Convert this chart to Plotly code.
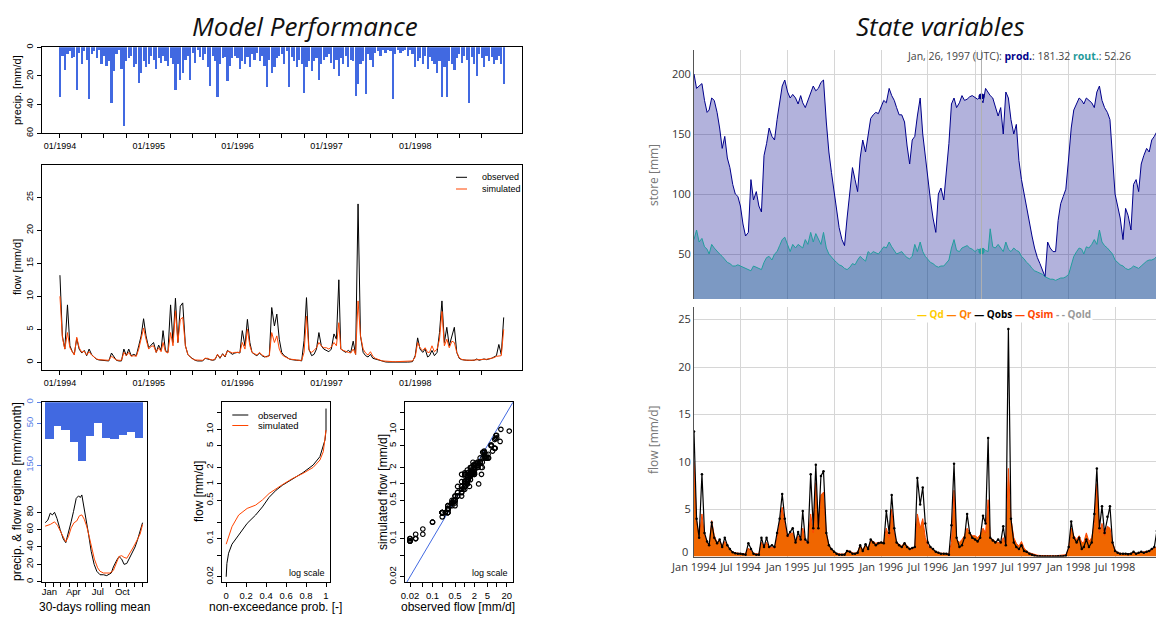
import pandas as pd
import plotly.graph_objects as go

# target picture size and the 8px default page margin of the html body
W, H = 1164, 621
OFF = 8
FW, FH = W - OFF, H - OFF

# ---------------------------------------------------------------- data
# time grid: 1st, 11th and 21st of each month 1994-1998, plus 31 Dec 1998
GRID_DAYS = (1, 11, 21)
dates = [pd.Timestamp(y, m, d) for y in range(1994, 1999) for m in range(1, 13) for d in GRID_DAYS]
dates.append(pd.Timestamp(1998, 12, 31))

# precipitation [mm/d]
p94 = [35, 6, 16, 5, 3, 8, 7, 30, 4, 12, 3, 9, 36, 5, 3, 8, 2, 12, 6, 13, 10, 39, 17, 5, 2, 15, 55, 10, 8, 6, 14, 12, 25, 18, 10, 14]
p95 = [12, 6, 9, 15, 8, 11, 6, 10, 13, 8, 12, 30, 12, 23, 18, 9, 6, 23, 4, 11, 2, 7, 9, 5, 14, 27, 6, 10, 35, 12, 8, 7, 24, 13, 8, 6]
p96 = [8, 15, 10, 12, 7, 14, 5, 9, 4, 10, 6, 13, 28, 9, 18, 14, 8, 6, 5, 12, 3, 28, 7, 10, 14, 9, 12, 32, 14, 10, 17, 10, 8, 23, 12, 9]
p97 = [7, 5, 11, 15, 9, 20, 8, 12, 6, 14, 9, 10, 34, 26, 12, 10, 33, 5, 9, 14, 4, 3, 6, 2, 4, 2, 3, 36, 5, 2, 4, 3, 2, 6, 2, 5]
p98 = [14, 10, 8, 12, 6, 15, 7, 10, 12, 18, 10, 35, 14, 35, 10, 12, 16, 8, 5, 11, 6, 9, 39, 7, 12, 20, 5, 8, 14, 6, 10, 7, 12, 9, 6, 12, 26]
precip = p94 + p95 + p96 + p97 + p98

# observed flow [mm/d]
o94 = [13.2, 4.0, 2.0, 8.7, 2.5, 1.6, 1.2, 3.6, 2.0, 1.4, 1.8, 1.0, 2.0, 1.2, 0.8, 0.45, 0.35, 0.3, 0.3, 0.25, 0.2, 1.4, 0.8, 0.3, 0.2, 0.2, 2.0, 1.0, 2.0, 1.0, 1.2, 1.0, 2.5, 4.0, 6.6, 4.0]
o95 = [2.2, 2.6, 3.0, 1.5, 2.6, 1.8, 4.8, 1.8, 1.5, 8.7, 3.0, 9.7, 3.0, 8.5, 9.0, 2.5, 1.2, 0.8, 0.5, 0.3, 0.2, 0.2, 0.2, 0.6, 0.5, 0.3, 0.3, 0.4, 1.2, 0.6, 1.3, 0.8, 1.8, 1.5, 1.2, 1.4]
o96 = [1.5, 1.4, 4.8, 2.5, 6.5, 3.0, 1.5, 1.2, 1.0, 1.4, 1.0, 0.8, 0.9, 1.0, 8.3, 5.5, 7.3, 3.5, 1.5, 1.0, 0.8, 0.5, 0.4, 0.3, 0.3, 0.3, 0.2, 3.3, 9.8, 2.0, 1.0, 1.2, 2.0, 4.5, 2.5, 2.0]
o97 = [1.8, 1.6, 2.0, 4.3, 3.5, 12.5, 2.0, 1.7, 1.5, 1.8, 1.5, 3.2, 1.2, 24.0, 4.0, 1.5, 1.0, 0.8, 1.2, 0.6, 0.5, 0.3, 0.2, 0.1, 0.05, 0.03, 0.02, 0.02, 0.02, 0.02, 0.02, 0.02, 0.03, 0.03, 0.05, 0.1]
o98 = [1.0, 3.7, 2.0, 1.5, 2.0, 0.8, 1.0, 1.8, 1.0, 1.5, 4.5, 9.3, 3.0, 5.3, 2.5, 4.2, 5.3, 1.5, 0.6, 0.4, 0.3, 0.3, 0.3, 0.25, 0.3, 0.5, 0.3, 0.4, 0.5, 0.4, 0.5, 0.6, 0.8, 1.0, 2.7, 1.2, 6.8]
q_obs = o94 + o95 + o96 + o97 + o98

# simulated flow [mm/d]
s94 = [10.0, 3.8, 2.0, 4.5, 2.2, 1.5, 1.1, 3.8, 2.2, 1.5, 1.7, 1.1, 1.6, 1.1, 0.8, 0.5, 0.4, 0.35, 0.35, 0.3, 0.3, 0.9, 0.6, 0.35, 0.3, 0.3, 1.5, 1.0, 1.5, 0.9, 1.0, 0.9, 2.0, 3.8, 5.2, 3.5]
s95 = [2.0, 2.4, 2.5, 1.5, 2.2, 1.6, 3.0, 1.6, 1.4, 4.5, 2.5, 7.8, 3.0, 6.5, 6.8, 2.5, 1.2, 0.8, 0.5, 0.35, 0.3, 0.25, 0.3, 0.6, 0.6, 0.4, 0.35, 0.5, 1.2, 0.7, 1.2, 0.9, 1.7, 1.6, 1.4, 1.5]
s96 = [1.5, 1.5, 3.0, 2.0, 5.0, 2.5, 1.5, 1.3, 1.1, 1.5, 1.1, 0.9, 0.8, 1.0, 4.5, 3.0, 4.0, 2.0, 1.2, 0.9, 0.7, 0.5, 0.45, 0.35, 0.35, 0.3, 0.3, 1.5, 7.0, 1.8, 1.5, 1.8, 2.2, 3.0, 2.5, 2.2]
s97 = [2.2, 2.0, 2.3, 3.0, 2.5, 6.0, 2.0, 1.8, 1.6, 1.5, 1.4, 2.0, 1.2, 9.3, 4.0, 2.0, 1.4, 1.1, 1.6, 0.9, 0.6, 0.4, 0.3, 0.2, 0.15, 0.12, 0.1, 0.1, 0.09, 0.09, 0.09, 0.09, 0.1, 0.1, 0.12, 0.2]
s98 = [0.8, 3.0, 2.2, 1.8, 2.2, 1.5, 1.5, 2.5, 1.6, 2.0, 3.5, 7.7, 2.5, 3.5, 2.2, 3.2, 3.0, 1.5, 0.7, 0.45, 0.35, 0.3, 0.3, 0.3, 0.35, 0.4, 0.35, 0.4, 0.45, 0.45, 0.5, 0.6, 0.7, 0.9, 1.0, 1.0, 5.0]
q_sim = s94 + s95 + s96 + s97 + s98

# production store [mm]
prod94 = [200, 188, 190, 192, 178, 168, 170, 180, 178, 168, 155, 138, 148, 130, 122, 108, 100, 98, 90, 75, 65, 68, 112, 95, 102, 90, 85, 132, 142, 155, 148, 145, 162, 178, 190, 195]
prod95 = [185, 180, 183, 180, 175, 182, 176, 172, 178, 185, 190, 186, 188, 193, 195, 160, 135, 118, 102, 90, 72, 62, 57, 80, 105, 122, 112, 102, 130, 145, 135, 150, 163, 166, 168, 167]
prod96 = [172, 178, 176, 188, 182, 178, 172, 166, 166, 160, 140, 125, 145, 148, 165, 180, 150, 130, 112, 95, 80, 68, 100, 105, 95, 120, 142, 175, 180, 172, 176, 182, 178, 179, 181, 182]
prod97 = [180, 179, 181, 176, 188, 184, 182, 180, 172, 165, 172, 150, 185, 180, 162, 150, 158, 128, 112, 100, 88, 75, 65, 55, 47, 42, 36, 31, 60, 55, 52, 52, 78, 92, 98, 104]
prod98 = [130, 155, 170, 176, 180, 178, 175, 180, 178, 176, 172, 185, 190, 178, 172, 168, 162, 128, 100, 90, 80, 62, 88, 82, 70, 108, 112, 102, 125, 132, 138, 135, 145, 148, 152, 168, 182]
prod_store = prod94 + prod95 + prod96 + prod97 + prod98

# routing store [mm]
rout94 = [62, 70, 60, 63, 56, 54, 50, 58, 55, 52, 50, 48, 45, 43, 42, 40, 40, 41, 40, 39, 38, 37, 36, 40, 39, 38, 37, 43, 47, 48, 45, 50, 52, 57, 62, 64]
rout95 = [58, 52, 58, 55, 58, 56, 55, 62, 58, 68, 60, 67, 62, 58, 68, 55, 50, 47, 45, 43, 41, 40, 38, 37, 39, 42, 41, 45, 48, 46, 44, 52, 50, 52, 51, 50]
rout96 = [53, 56, 55, 60, 56, 53, 50, 51, 52, 49, 47, 46, 48, 58, 52, 60, 52, 48, 45, 43, 42, 40, 39, 40, 40, 43, 45, 55, 62, 53, 52, 55, 56, 57, 55, 54]
rout97 = [52, 54, 53, 55, 53, 52, 71, 56, 55, 58, 55, 52, 60, 54, 52, 55, 53, 52, 48, 46, 43, 41, 38, 36, 35, 34, 33, 31, 30, 29, 29, 28, 29, 30, 30, 31]
rout98 = [33, 40, 48, 52, 55, 54, 50, 56, 55, 58, 62, 58, 70, 60, 57, 55, 52, 50, 45, 43, 41, 40, 38, 37, 38, 40, 39, 38, 40, 42, 44, 45, 45, 46, 48, 52, 62]
rout_store = rout94 + rout95 + rout96 + rout97 + rout98

HOVER_DATE = "1997-01-26"
HOVER_LABEL = "Jan, 26, 1997 (UTC)"
HOVER_PROD = 181.32
HOVER_ROUT = 52.26

# regime (30-days rolling mean), day of year -> mm/month
regime_precip = [87, 58, 66, 95, 140, 82, 50, 86, 87, 79, 72, 86]
regime_day_obs = [1, 11, 20, 28, 36, 45, 57, 69, 78, 88, 98, 107, 117, 126, 132, 138, 144, 150, 163, 173, 184, 194, 206, 219, 231, 248, 256, 269, 277, 287, 296, 306, 316, 325, 337, 346, 356, 365]
regime_obs = [68, 71, 79, 77, 80, 73, 60, 49, 45, 56, 69, 81, 96, 99, 97, 100, 90, 80, 55, 35, 20, 12, 8, 8, 7, 10, 17, 25, 29, 26, 20, 21, 27, 33, 40, 48, 58, 68]
regime_day_sim = [1, 20, 36, 47, 63, 78, 88, 98, 109, 119, 129, 138, 147, 157, 167, 175, 185, 197, 206, 219, 243, 256, 269, 277, 287, 296, 306, 319, 331, 343, 356, 365]
regime_sim = [64, 66, 69, 65, 55, 46, 52, 62, 68, 70, 76, 77, 72, 63, 50, 38, 26, 16, 12, 10, 10, 13, 24, 29, 30, 28, 27, 33, 40, 47, 55, 66]

# flow duration curves
fdc_p_obs = [0, 0.007, 0.024, 0.058, 0.125, 0.21, 0.295, 0.363, 0.43, 0.5, 0.566, 0.668, 0.769, 0.871, 0.939, 0.99, 1.0, 1.0]
fdc_q_obs = [0.02, 0.035, 0.054, 0.079, 0.116, 0.19, 0.27, 0.38, 0.57, 0.77, 0.955, 1.23, 1.61, 2.22, 3.16, 6.4, 9.7, 24.0]
fdc_p_sim = [0, 0.058, 0.125, 0.21, 0.295, 0.363, 0.43, 0.5, 0.566, 0.668, 0.769, 0.871, 0.939, 0.973, 1.0]
fdc_q_sim = [0.079, 0.165, 0.27, 0.357, 0.41, 0.51, 0.67, 0.83, 0.98, 1.27, 1.56, 2.01, 2.74, 3.9, 9.7]

# tick labels
MONTH_LABELS = ["Jan", "Apr", "Jul", "Oct"]
LOG_TICKS = [0.02, 0.05, 0.1, 0.2, 0.5, 1, 2, 5, 10, 20]
LOG_LABELS_Y = ["0.02", "", "0.1", "", "0.5", "1", "2", "5", "10", ""]
LOG_LABELS_X = ["0.02", "", "0.1", "", "0.5", "", "2", "5", "", "20"]
FLOW_TICKS_R = [0, 5, 10, 15, 20, 25]
qtr_ticks = [f"{y}-{m:02d}-01" for y in range(1994, 1999) for m in (1, 4, 7, 10)]
qtr_labels = [f"01/{t[:4]}" if t[5:7] == "01" else "" for t in qtr_ticks]
hy_ticks = [f"{y}-{m:02d}-01" for y in range(1994, 1999) for m in (1, 7)]
hy_labels = [("Jan " if t[5:7] == "01" else "Jul ") + t[:4] for t in hy_ticks]

# ---------------------------------------------------------------- helpers (pixel -> paper)
def px(v):
    return (v - OFF) / FW

def py(v):
    return 1 - (v - OFF) / FH

def dx(l, r):
    return [px(l), px(r)]

def dy(t, b):
    return [py(b), py(t)]

R_FONT = "Liberation Sans, Arial, sans-serif"
D_FONT = "Open Sans, Noto Sans, sans-serif"
BLUE = "#4169E1"
BLUE_LBL = "#5b7fe6"

month_start = [1, 32, 60, 91, 121, 152, 182, 213, 244, 274, 305, 335, 366]
bar_x = [(a + b) / 2 for a, b in zip(month_start[:-1], month_start[1:])]
bar_w = [b - a for a, b in zip(month_start[:-1], month_start[1:])]
label_days = [bar_x[0], bar_x[3], bar_x[6], bar_x[9]]

fig = go.Figure()

# --- left: precipitation
fig.add_trace(go.Bar(x=dates, y=precip, width=7 * 86400000, marker=dict(color=BLUE, line_width=0),
                     xaxis="x", yaxis="y"))
# --- left: flow time series
fig.add_trace(go.Scatter(x=dates, y=q_obs, mode="lines", line=dict(color="black", width=1), xaxis="x2", yaxis="y2"))
fig.add_trace(go.Scatter(x=dates, y=q_sim, mode="lines", line=dict(color="orangered", width=1), xaxis="x2", yaxis="y2"))
# --- regime
fig.add_trace(go.Bar(x=bar_x, y=regime_precip, width=bar_w, marker=dict(color=BLUE, line_width=0),
                     xaxis="x3", yaxis="y4"))
fig.add_trace(go.Scatter(x=regime_day_obs, y=regime_obs, mode="lines", line=dict(color="black", width=1),
                         xaxis="x3", yaxis="y3"))
fig.add_trace(go.Scatter(x=regime_day_sim, y=regime_sim, mode="lines", line=dict(color="orangered", width=1),
                         xaxis="x3", yaxis="y3"))
# --- FDC
fig.add_trace(go.Scatter(x=fdc_p_obs, y=fdc_q_obs, mode="lines", line=dict(color="black", width=1), xaxis="x4", yaxis="y5"))
fig.add_trace(go.Scatter(x=fdc_p_sim, y=fdc_q_sim, mode="lines", line=dict(color="orangered", width=1), xaxis="x4", yaxis="y5"))
# --- scatter obs vs sim
fig.add_trace(go.Scatter(x=[0.001, 100], y=[0.001, 100], mode="lines", line=dict(color=BLUE, width=1), xaxis="x5", yaxis="y6"))
fig.add_trace(go.Scatter(x=q_obs, y=q_sim, mode="markers",
                         marker=dict(symbol="circle-open", size=4.5, color="black", line=dict(width=1.2, color="black")),
                         xaxis="x5", yaxis="y6"))

# --- right: stores
fig.add_trace(go.Scatter(x=dates, y=rout_store, mode="lines", line=dict(width=0), fill="tozeroy",
                         fillcolor="rgba(0,139,139,0.3)", xaxis="x6", yaxis="y7"))
fig.add_trace(go.Scatter(x=dates, y=prod_store, mode="lines", line=dict(width=0), fill="tozeroy",
                         fillcolor="rgba(0,0,139,0.3)", xaxis="x6", yaxis="y7"))
fig.add_trace(go.Scatter(x=dates, y=prod_store, mode="lines", line=dict(color="#00008B", width=1), xaxis="x6", yaxis="y7"))
fig.add_trace(go.Scatter(x=dates, y=rout_store, mode="lines", line=dict(color="#239e9e", width=1), xaxis="x6", yaxis="y7"))
fig.add_trace(go.Scatter(x=[HOVER_DATE, HOVER_DATE], y=[HOVER_PROD, HOVER_ROUT], mode="markers",
                         marker=dict(size=6, color=["#00008B", "#239e9e"]), xaxis="x6", yaxis="y7"))

# --- right: flows
fig.add_trace(go.Scatter(x=dates, y=q_sim, mode="lines", line=dict(width=0), fill="tozeroy",
                         fillcolor="rgb(240,102,0)", xaxis="x7", yaxis="y8"))
fig.add_trace(go.Scatter(x=dates, y=q_sim, mode="lines", line=dict(color="orangered", width=1), xaxis="x7", yaxis="y8"))
fig.add_trace(go.Scatter(x=dates, y=q_obs, mode="lines+markers", line=dict(color="black", width=1.2),
                         marker=dict(size=2.5, color="black"), xaxis="x7", yaxis="y8"))

# ---------------------------------------------------------------- axes
def r_axis(**kw):
    d = dict(showline=True, mirror=True, linecolor="black", linewidth=1, ticks="outside", ticklen=4,
             tickwidth=1, tickcolor="black", showgrid=False, zeroline=False, automargin=False,
             tickfont=dict(family=R_FONT, size=9, color="black"))
    d.update(kw)
    return d

def d_axis(**kw):
    d = dict(showgrid=True, gridcolor="#d6d6d6", gridwidth=1, zeroline=False, ticks="", automargin=False,
             tickfont=dict(family=D_FONT, size=11, color="#333"))
    d.update(kw)
    return d

LEFT_RANGE = ["1993-10-18", "1999-03-15"]
RIGHT_RANGE = ["1994-01-01", "1998-12-31"]
BOT_T, BOT_B = 402.3, 582.3

layout = dict(
    width=FW, height=FH, margin=dict(l=0, r=0, t=0, b=0, pad=0, autoexpand=False), autosize=False,
    paper_bgcolor="white", plot_bgcolor="rgba(0,0,0,0)", showlegend=False, bargap=0,
    xaxis=r_axis(domain=dx(41.7, 521.7), anchor="y", type="date", range=LEFT_RANGE, tickangle=0,
                 tickmode="array", tickvals=qtr_ticks, ticktext=qtr_labels),
    yaxis=r_axis(domain=dy(47.3, 133.3), anchor="x", range=[60, 0], tickmode="array",
                 tickvals=[0, 20, 40, 60], tickangle=-90),
    xaxis2=r_axis(domain=dx(41.7, 521.7), anchor="y2", type="date", range=LEFT_RANGE, tickangle=0,
                  tickmode="array", tickvals=qtr_ticks, ticktext=qtr_labels),
    yaxis2=r_axis(domain=dy(165, 370), anchor="x2", range=[-1.17, 29.9], tickmode="array",
                  tickvals=[0, 5, 10, 15, 20, 25], tickangle=-90),
    xaxis3=r_axis(domain=dx(41.7, 146.7), anchor="y3", range=[-12, 380.5], tickmode="array",
                  tickvals=label_days, ticktext=MONTH_LABELS, ticks="", tickangle=0,
                  tickfont=dict(family=R_FONT, size=9.5, color="black"),
                  minor=dict(tickmode="array", tickvals=month_start, ticks="outside", ticklen=4,
                             tickcolor="black", tickwidth=1)),
    yaxis3=r_axis(domain=dy(BOT_T, BOT_B), anchor="x3", range=[-0.7, 206.8], tickmode="array",
                  tickvals=[0, 20, 40, 60, 80], tickangle=-90,
                  tickfont=dict(family=R_FONT, size=9.5, color="black")),
    yaxis4=dict(overlaying="y3", side="left", anchor="x3", range=[428.6, 0], tickmode="array",
                tickvals=[0, 50, 150], tickangle=-90, showgrid=False, zeroline=False, showline=False,
                ticks="outside", ticklen=4, tickcolor=BLUE_LBL, automargin=False,
                tickfont=dict(family=R_FONT, size=9.5, color=BLUE_LBL)),
    xaxis4=r_axis(domain=dx(221.7, 330), anchor="y5", range=[-0.045, 1.04], tickmode="array", tickangle=0,
                  tickvals=[0, 0.2, 0.4, 0.6, 0.8, 1], ticktext=["0", "0.2", "0.4", "0.6", "0.8", "1"],
                  tickfont=dict(family=R_FONT, size=9.5, color="black")),
    yaxis5=r_axis(domain=dy(BOT_T, BOT_B), anchor="x4", type="log", range=[-1.80, 1.495],
                  tickmode="array", tickvals=LOG_TICKS, ticktext=LOG_LABELS_Y, tickangle=-90,
                  tickfont=dict(family=R_FONT, size=9.5, color="black")),
    xaxis5=r_axis(domain=dx(405, 513.3), anchor="y6", type="log", range=[-1.854, 1.506], tickangle=0,
                  tickmode="array", tickvals=LOG_TICKS, ticktext=LOG_LABELS_X,
                  tickfont=dict(family=R_FONT, size=9.5, color="black")),
    yaxis6=r_axis(domain=dy(BOT_T, BOT_B), anchor="x5", type="log", range=[-1.80, 1.495],
                  tickmode="array", tickvals=LOG_TICKS, ticktext=LOG_LABELS_Y, tickangle=-90,
                  tickfont=dict(family=R_FONT, size=9.5, color="black")),
    xaxis6=d_axis(domain=dx(694, 1162), anchor="y7", type="date", range=RIGHT_RANGE,
                  tickmode="array", tickvals=hy_ticks, showticklabels=False, showline=False),
    yaxis7=d_axis(domain=dy(50, 299), anchor="x6", range=[12.5, 220], tickmode="array",
                  tickvals=[50, 100, 150, 200], showline=True, linecolor="#555", linewidth=1),
    xaxis7=d_axis(domain=dx(694, 1162), anchor="y8", type="date", range=RIGHT_RANGE, tickangle=0,
                  tickmode="array", tickvals=hy_ticks, ticktext=hy_labels, showline=True,
                  linecolor="#555", linewidth=1),
    # the "0" label is lifted above the axis (as dygraphs does) via an annotation below
    yaxis8=d_axis(domain=dy(307.3, 556.6), anchor="x7", range=[0, 26.3], tickmode="array",
                  tickvals=FLOW_TICKS_R, ticktext=[""] + [str(v) for v in FLOW_TICKS_R[1:]],
                  showline=True, linecolor="#555", linewidth=1),
)
fig.update_layout(**layout)

# ---------------------------------------------------------------- annotations
ann = []

def text(x, y, s, size, color="black", family=R_FONT, angle=0, xanchor="center", yanchor="middle", **kw):
    ann.append(dict(x=px(x), y=py(y), xref="paper", yref="paper", text=s, showarrow=False,
                    font=dict(family=family, size=size, color=color), textangle=angle,
                    xanchor=xanchor, yanchor=yanchor, **kw))

# panel titles
text(305, 25.5, "<i>Model Performance</i>", 26, "#111", family="Open Sans, sans-serif")
text(940, 25.5, "<i>State variables</i>", 26, "#111", family="Open Sans, sans-serif")

# R-style axis titles
text(17, 90, "precip. [mm/d]", 11, angle=-90)
text(17, 267, "flow [mm/d]", 11, angle=-90)
text(17, 492, "precip. &amp; flow regime [mm/month]", 12, angle=-90)
text(199, 492, "flow [mm/d]", 12, angle=-90)
text(383, 492, "simulated flow [mm/d]", 12, angle=-90)
text(94, 606.5, "30-days rolling mean", 12)
text(275, 606.5, "non-exceedance prob. [-]", 12)
text(458, 606.5, "observed flow [mm/d]", 12)

# R-style legends
shapes = []

def seg(x0, x1, y, color):
    shapes.append(dict(type="line", xref="paper", yref="paper", x0=px(x0), x1=px(x1), y0=py(y), y1=py(y),
                       line=dict(color=color, width=1)))

seg(456, 467, 177.3, "black")
seg(456, 467, 189, "orangered")
text(480, 177.3, "observed", 9, xanchor="left")
text(480, 189, "simulated", 9, xanchor="left")

seg(232.3, 248.3, 415, "black")
seg(232.3, 248.3, 425.5, "orangered")
text(256, 415, "observed", 9.5, xanchor="left")
text(256, 425.5, "simulated", 9.5, xanchor="left")

text(307, 573.3, "log scale", 9)
text(490, 573.3, "log scale", 9)

# dygraphs-style labels
text(653, 175, "store [mm]", 12, "#777", family=D_FONT, angle=-90)
text(653, 440, "flow [mm/d]", 12, "#777", family=D_FONT, angle=-90)
text(690, 551, str(FLOW_TICKS_R[0]), 11, "#333", family=D_FONT, xanchor="right")
hover_txt = (f"{HOVER_LABEL}: <span style='color:#00008B'><b>prod.</b></span>: {HOVER_PROD:.2f} "
             f"<span style='color:#1f9a9a'><b>rout.</b></span>: {HOVER_ROUT:.2f}")
text(1133, 55.7, hover_txt, 10.5, "#444", family=D_FONT, xanchor="right")
legend_txt = ("<span style='color:#FFCC00'><b>—</b> <b>Qd</b></span> "
              "<span style='color:#FF7F00'><b>—</b> <b>Qr</b></span> "
              "<span style='color:black'><b>—</b> <b>Qobs</b></span> "
              "<span style='color:orangered'><b>—</b> <b>Qsim</b></span> "
              "<span style='color:#999'><b>- -</b> <b>Qold</b></span>")
text(1093, 314, legend_txt, 10, family=D_FONT, xanchor="right", bgcolor="white")

# hover highlight line on store chart
shapes.append(dict(type="line", xref="x6", yref="y7", x0=HOVER_DATE, x1=HOVER_DATE, y0=12.5, y1=220,
                   line=dict(color="#b0b0b0", width=1)))

fig.update_layout(annotations=ann, shapes=shapes)
fig.write_html("out.html")
